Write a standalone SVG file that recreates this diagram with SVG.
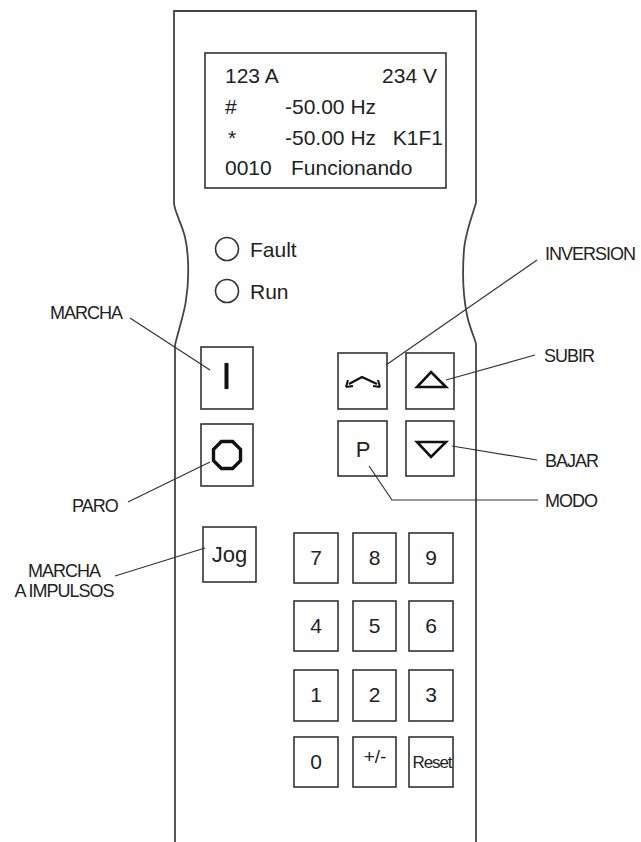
<svg xmlns="http://www.w3.org/2000/svg" width="641" height="842" viewBox="0 0 641 842">
<style>
  .body{fill:none;stroke:#444;stroke-width:1.8}
  .box{fill:#fff;stroke:#333;stroke-width:1.6}
  .ld{fill:none;stroke:#333;stroke-width:1.2}
  .sym{fill:none;stroke:#111;stroke-width:2.6;stroke-linejoin:miter}
  .disp{font-family:"Liberation Sans",Arial,sans-serif;font-size:21px;fill:#222}
  .lbl{font-family:"Liberation Sans",Arial,sans-serif;font-size:18px;letter-spacing:-1px;fill:#222}
  .key{font-family:"Liberation Sans",Arial,sans-serif;font-size:21px;fill:#222;text-anchor:middle}
</style>
<rect width="641" height="842" fill="#fff"/>
<g id="housing">
  <path class="body" d="M175,842 L175,345 C180,325 185,310 186,300 C190,275 188,250 185,237 C181,222 174,210 174,203 L174,11 L476,11 L476,203 C470,222 465,235 464,250 C462,275 464,300 467,315 C470,330 476,340 476,345 L476,842"/>
</g>
<g id="display">
  <rect class="box" x="205" y="53" width="241" height="135"/>
  <text class="disp" x="225" y="83">123 A</text>
  <text class="disp" x="437" y="83" text-anchor="end">234 V</text>
  <text class="disp" x="225" y="114">#</text>
  <text class="disp" x="285" y="114">-50.00 Hz</text>
  <text class="disp" x="228" y="145">*</text>
  <text class="disp" x="285" y="145">-50.00 Hz</text>
  <text class="disp" x="443" y="145" text-anchor="end">K1F1</text>
  <text class="disp" x="225" y="175">0010</text>
  <text class="disp" x="291" y="175">Funcionando</text>
</g>
<g id="led-fault">
  <circle cx="227" cy="249" r="11.5" fill="none" stroke="#333" stroke-width="1.6"/>
  <text class="disp" x="250" y="257">Fault</text>
</g>
<g id="led-run">
  <circle cx="227" cy="291" r="11.5" fill="none" stroke="#333" stroke-width="1.6"/>
  <text class="disp" x="250" y="299">Run</text>
</g>
<g id="btn-marcha">
  <rect class="box" x="201" y="347" width="52" height="62"/>
  <line x1="226.5" y1="363" x2="226.5" y2="389" stroke="#111" stroke-width="4"/>
</g>
<g id="btn-paro">
  <rect class="box" x="201" y="424" width="52" height="62"/>
  <polygon class="sym" style="stroke-width:3.4" points="232.6,441.5 240.5,449.4 240.5,460.6 232.6,468.5 221.4,468.5 213.5,460.6 213.5,449.4 221.4,441.5"/>
</g>
<g id="btn-jog">
  <rect class="box" x="203" y="527" width="53" height="55"/>
  <text class="key" x="229.5" y="562" style="font-size:22px">Jog</text>
</g>
<g id="btn-inversion">
  <rect class="box" x="338" y="353" width="49" height="56"/>
  <path d="M349,384 L362,377 L377,384" fill="none" stroke="#111" stroke-width="2.4"/>
  <path d="M346,387 L348,380 M346,387 L353,386 M380,387 L373,386 M380,387 L378,380" fill="none" stroke="#111" stroke-width="2"/>
</g>
<g id="btn-subir">
  <rect class="box" x="406" y="353" width="48" height="56"/>
  <polygon class="sym" points="431,372 446,387 417,387"/>
</g>
<g id="btn-modo">
  <rect class="box" x="338" y="421" width="49" height="55"/>
  <text class="key" x="363" y="457" style="font-size:22px">P</text>
</g>
<g id="btn-bajar">
  <rect class="box" x="406" y="421" width="48" height="55"/>
  <polygon class="sym" points="417,442 446,442 431,457"/>
</g>
<g id="keypad">
  <g id="key-7"><rect class="box" x="294" y="533" width="44" height="50"/><text class="key" x="316" y="565">7</text></g>
  <g id="key-8"><rect class="box" x="353" y="533" width="43" height="50"/><text class="key" x="374.5" y="565">8</text></g>
  <g id="key-9"><rect class="box" x="409" y="533" width="44" height="50"/><text class="key" x="431" y="565">9</text></g>
  <g id="key-4"><rect class="box" x="294" y="601" width="44" height="50"/><text class="key" x="316" y="633">4</text></g>
  <g id="key-5"><rect class="box" x="353" y="601" width="43" height="50"/><text class="key" x="374.5" y="633">5</text></g>
  <g id="key-6"><rect class="box" x="409" y="601" width="44" height="50"/><text class="key" x="431" y="633">6</text></g>
  <g id="key-1"><rect class="box" x="294" y="670" width="44" height="51"/><text class="key" x="316" y="702">1</text></g>
  <g id="key-2"><rect class="box" x="353" y="670" width="43" height="51"/><text class="key" x="374.5" y="702">2</text></g>
  <g id="key-3"><rect class="box" x="409" y="670" width="44" height="51"/><text class="key" x="431" y="702">3</text></g>
  <g id="key-0"><rect class="box" x="294" y="737" width="44" height="50"/><text class="key" x="316" y="769">0</text></g>
  <g id="key-sign"><rect class="box" x="353" y="737" width="43" height="50"/><text class="key" x="375" y="763" style="font-size:19px">+/-</text></g>
  <g id="key-reset"><rect class="box" x="409" y="737" width="44" height="50"/><text class="key" x="432" y="768" style="font-size:17px;letter-spacing:-1.1px">Reset</text></g>
</g>
<g id="connectors">
  <line class="ld" x1="130" y1="318" x2="210" y2="370"/>
  <line class="ld" x1="128" y1="502" x2="210" y2="462"/>
  <line class="ld" x1="115" y1="576" x2="205" y2="548"/>
  <line class="ld" x1="537" y1="260" x2="386" y2="365"/>
  <line class="ld" x1="535" y1="355" x2="446" y2="380"/>
  <line class="ld" x1="452" y1="446" x2="537" y2="460"/>
  <polyline class="ld" points="369,466 392,500 538,500"/>
</g>
<g id="labels">
  <text class="lbl" x="50" y="319">MARCHA</text>
  <text class="lbl" x="72" y="512">PARO</text>
  <text class="lbl" x="64" y="577" text-anchor="middle">MARCHA</text>
  <text class="lbl" x="64" y="597" text-anchor="middle">A IMPULSOS</text>
  <text class="lbl" x="545" y="260">INVERSION</text>
  <text class="lbl" x="544" y="362">SUBIR</text>
  <text class="lbl" x="545" y="467">BAJAR</text>
  <text class="lbl" x="545" y="507">MODO</text>
</g>
</svg>
